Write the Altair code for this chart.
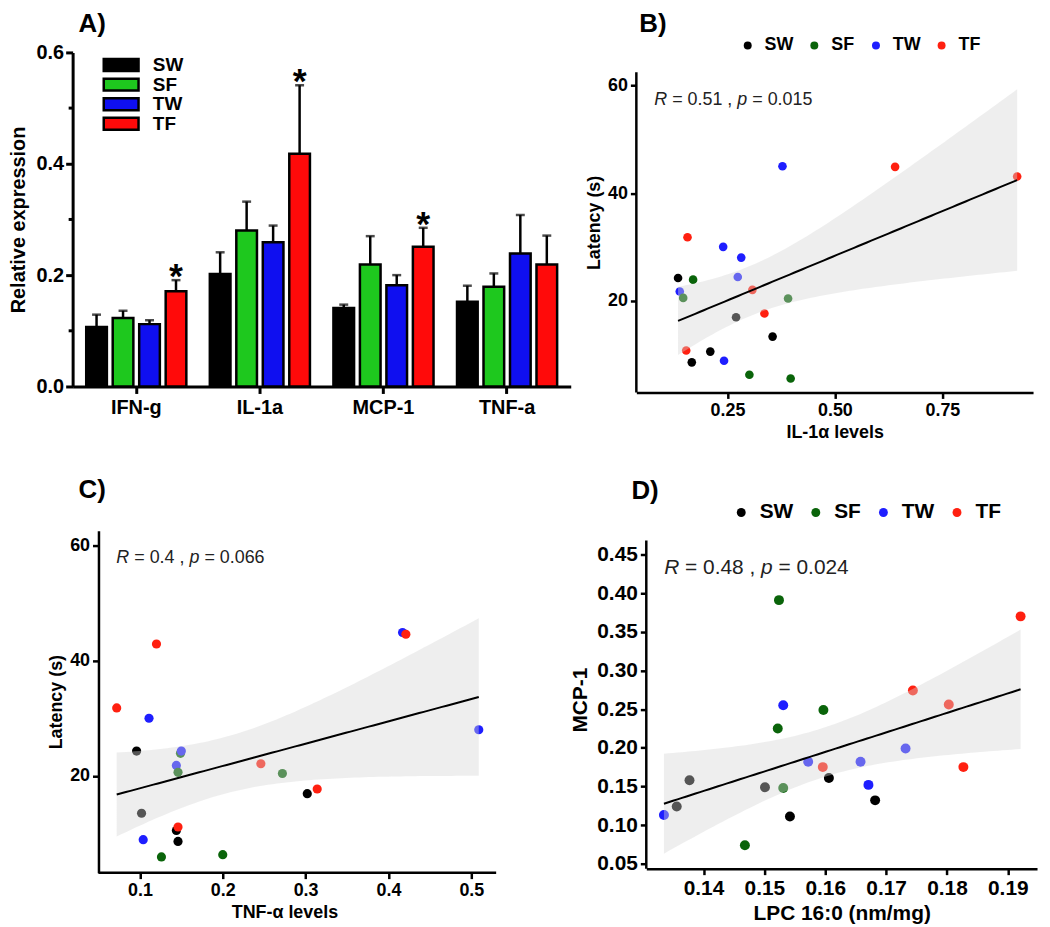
import altair as alt
import numpy as np
import pandas as pd

FONT = "Liberation Sans"
GROUPS = ["SW", "SF", "TW", "TF"]
BAR_COLORS = ["#000000", "#1EC81E", "#0F0FF0", "#FF0A0A"]
POINT_COLORS = ["#000000", "#0A640A", "#1E1EFF", "#FF2010"]

# ---------------- Panel A data ----------------
genes = ["IFN-g", "IL-1a", "MCP-1", "TNF-a"]
sw_mean = [0.107, 0.202, 0.141, 0.152]
sf_mean = [0.123, 0.280, 0.219, 0.179]
tw_mean = [0.112, 0.259, 0.182, 0.239]
tf_mean = [0.171, 0.418, 0.251, 0.219]
sw_sem = [0.022, 0.039, 0.006, 0.029]
sf_sem = [0.013, 0.052, 0.051, 0.024]
tw_sem = [0.007, 0.030, 0.018, 0.069]
tf_sem = [0.020, 0.123, 0.034, 0.052]
tf_star = ["*", "*", "*", ""]
a_major_ticks = [0, 0.2, 0.4, 0.6]
a_minor_ticks = [0.1, 0.3, 0.5]

# ---------------- Panel B data ----------------
b_group = ["TW", "TF", "TF", "TF", "TW", "TW", "SW", "SF", "TW", "TW", "SF",
           "TF", "SF", "SW", "TF", "SW", "TF", "SW", "SW", "TW", "SF", "SF"]
b_il1a = [0.378, 0.640, 0.924, 0.157, 0.240, 0.282, 0.135, 0.170, 0.274, 0.139, 0.147,
          0.308, 0.391, 0.270, 0.336, 0.355, 0.154, 0.210, 0.167, 0.242, 0.301, 0.397]
b_latency = [45.0, 44.9, 43.1, 31.8, 30.0, 28.0, 24.2, 23.9, 24.4, 21.7, 20.5,
             22.0, 20.4, 16.9, 17.6, 13.3, 10.7, 10.5, 8.5, 8.8, 6.2, 5.5]

# ---------------- Panel C data ----------------
c_group = ["TF", "TW", "TF", "TF", "TW", "TW", "SW", "SF", "TW", "TW", "SF",
           "TF", "SF", "SW", "TF", "SW", "SW", "TF", "TW", "SW", "SF", "SF"]
c_tnfa = [0.120, 0.417, 0.421, 0.072, 0.111, 0.509, 0.096, 0.149, 0.150, 0.144, 0.146,
          0.246, 0.272, 0.302, 0.314, 0.102, 0.144, 0.146, 0.104, 0.146, 0.126, 0.200]
c_latency = [42.9, 44.9, 44.6, 31.8, 30.0, 28.0, 24.3, 23.9, 24.3, 21.8, 20.6,
             22.1, 20.4, 16.9, 17.7, 13.5, 10.5, 11.1, 8.9, 8.6, 5.9, 6.3]

# ---------------- Panel D data ----------------
d_group = ["SF", "TF", "TF", "TW", "SF", "TF", "SF", "TW", "TW", "TW", "TF",
           "TF", "SW", "SW", "SW", "SF", "TW", "SW", "SW", "TW", "SW", "SF"]
d_lpc = [0.1524, 0.1921, 0.1744, 0.1531, 0.1597, 0.1803, 0.1522, 0.1732, 0.1572, 0.1658, 0.1596,
         0.1827, 0.1606, 0.1377, 0.1501, 0.1531, 0.1671, 0.1682, 0.1356, 0.1335, 0.1542, 0.1468]
d_mcp1 = [0.391, 0.370, 0.274, 0.255, 0.249, 0.256, 0.225, 0.199, 0.182, 0.182, 0.175,
          0.175, 0.161, 0.158, 0.149, 0.148, 0.152, 0.132, 0.124, 0.113, 0.111, 0.074]

# Arial / Liberation Sans advance widths (per 1000 em) for annotation layout
AW = {"R": 722, " ": 278, "=": 584, ".": 278, ",": 278, "p": 556}
for _d in "0123456789":
    AW[_d] = 556


def text_w(s, fs):
    return sum(AW[c] for c in s) * fs / 1000.0


def fit_band(x, y, n=80):
    x = np.asarray(x, float)
    y = np.asarray(y, float)
    b1, b0 = np.polyfit(x, y, 1)
    xs = np.linspace(x.min(), x.max(), n)
    yhat = b0 + b1 * xs
    resid = y - (b0 + b1 * x)
    s = np.sqrt(np.sum(resid ** 2) / (len(x) - 2))
    se = s * np.sqrt(1.0 / len(x) + (xs - x.mean()) ** 2 / np.sum((x - x.mean()) ** 2))
    t = 2.086  # t(0.975, df=20)
    return pd.DataFrame({"xv": xs, "fit": yhat, "lo": yhat - t * se, "hi": yhat + t * se})


def axis(fs, values, fmt, title_pad=4, extra=None):
    kw = dict(values=values, format=fmt, grid=False, labelFont=FONT, labelFontSize=fs,
              labelFontWeight="bold", labelColor="black", titleFont=FONT, titleFontSize=fs,
              titleFontWeight="bold", titleColor="black", domainColor="black", domainWidth=2.5,
              tickColor="black", tickWidth=2.5, tickSize=6, labelPadding=3,
              titlePadding=title_pad, labelFlush=False)
    if extra:
        kw.update(extra)
    return alt.Axis(**kw)


# ---------------- Panel A chart ----------------
rows = []
for g, m, s in zip(GROUPS, [sw_mean, sf_mean, tw_mean, tf_mean], [sw_sem, sf_sem, tw_sem, tf_sem]):
    for i, gene in enumerate(genes):
        rows.append({"gene": gene, "group": g, "mean": m[i], "top": m[i] + s[i],
                     "star": tf_star[i] if g == "TF" else ""})
bars_df = pd.DataFrame(rows)

A_H = 336
A_TOP = 0.6

xA = alt.X("gene:N", sort=genes, title=None,
           scale=alt.Scale(paddingInner=0.19, paddingOuter=0.11),
           axis=alt.Axis(labelAngle=0, labelFont=FONT, labelFontSize=20, labelFontWeight="bold",
                         labelColor="black", tickSize=7, tickWidth=3, tickColor="black",
                         domainWidth=3, domainColor="black", labelPadding=4, grid=False))
xoA = alt.XOffset("group:N", sort=GROUPS, scale=alt.Scale(paddingInner=0.22, paddingOuter=0))
axA = alt.Axis(values=a_major_ticks, format=".1f", grid=False, labelFont=FONT, labelFontSize=20,
               labelFontWeight="bold", labelColor="black", titleFont=FONT, titleFontSize=20,
               titleFontWeight="bold", titleColor="black", domainColor="black", domainWidth=3,
               tickColor="black", tickWidth=3, tickSize=7, labelPadding=2, titlePadding=8,
               labelFlush=False)
scA = alt.Scale(domain=[0, A_TOP], nice=False)


def yA(f):
    return alt.Y(f"{f}:Q", title="Relative expression", scale=scA, axis=axA)


colA = alt.Color("group:N", sort=GROUPS, scale=alt.Scale(domain=GROUPS, range=BAR_COLORS), legend=None)

baseA = alt.Chart(bars_df)
bars = baseA.mark_bar(stroke="black", strokeWidth=2.5).encode(x=xA, xOffset=xoA, y=yA("mean"), color=colA)
err = baseA.mark_rule(color="black", strokeWidth=2.5).encode(x=xA, xOffset=xoA, y=yA("mean"), y2="top:Q")
caps = baseA.mark_tick(color="black", thickness=2.5, size=9).encode(x=xA, xOffset=xoA, y=yA("top"))
stars = baseA.mark_text(fontSize=36, fontWeight="bold", font=FONT, baseline="alphabetic", dy=8,
                        color="black").encode(x=xA, xOffset=xoA, y=yA("top"), text="star:N")
minor = alt.Chart(pd.DataFrame({"t": a_minor_ticks})).mark_rule(color="black", strokeWidth=3).encode(
    y=yA("t"), x=alt.value(-4), x2=alt.value(0))

# legend inside the plot (key boxes with outlines), rows 19.7 px apart
leg_df = pd.DataFrame({"group": GROUPS, "i": list(range(len(GROUPS)))})
px = A_TOP / A_H
leg_base = alt.Chart(leg_df).transform_calculate(
    lc=f"{A_TOP} - (12.7 + 19.7 * datum.i) * {px}",
    l1=f"{A_TOP} - (6.7 + 19.7 * datum.i) * {px}",
    l2=f"{A_TOP} - (18.7 + 19.7 * datum.i) * {px}")
leg_rect = leg_base.mark_rect(stroke="black", strokeWidth=2.5).encode(
    x=alt.value(31.3), x2=alt.value(66.3), y=yA("l1"), y2="l2:Q", color=colA)
leg_text = leg_base.mark_text(align="left", baseline="middle", font=FONT, fontSize=19,
                              fontWeight="bold", color="black").encode(
    x=alt.value(80.7), y=yA("lc"), text="group:N")

panelA = alt.layer(bars, err, caps, stars, minor, leg_rect, leg_text).properties(
    width=501, height=A_H,
    title=alt.TitleParams("A)", anchor="start", fontSize=26, fontWeight="bold", font=FONT,
                          color="black", baseline="alphabetic", offset=-15, dx=6, frame="group"))


# ---------------- scatter panel builder ----------------
def scatter_panel(xs, ys, grp, xtitle, ytitle, xdom, ydom, xvals, yvals, xfmt, yfmt, fs,
                  width, height, label, title_dx, title_offset, r_str, p_str, r_x, r_y,
                  pt_size, legend=None, yline=None, xline=None, yoffset=0, ytitle_pad=4):
    df = pd.DataFrame({"xv": xs, "yv": ys, "group": grp})
    band = fit_band(xs, ys)
    sx = alt.Scale(domain=xdom, nice=False, zero=False)
    sy = alt.Scale(domain=ydom, nice=False, zero=False)
    ax = axis(fs, xvals, xfmt, title_pad=4, extra={"domain": False} if xline is not None else None)
    extra = {"offset": yoffset}
    if yline is not None:
        extra["domain"] = False
    ay = axis(fs, yvals, yfmt, title_pad=ytitle_pad, extra=extra)

    def X(f):
        return alt.X(f"{f}:Q", title=xtitle, scale=sx, axis=ax)

    def Y(f):
        return alt.Y(f"{f}:Q", title=ytitle, scale=sy, axis=ay)

    col = alt.Color("group:N", scale=alt.Scale(domain=GROUPS, range=POINT_COLORS),
                    legend=legend if legend is not None else None)
    pts = alt.Chart(df).mark_circle(size=pt_size, opacity=1).encode(x=X("xv"), y=Y("yv"), color=col)
    ribbon = alt.Chart(band).mark_area(color="#D4D4D4", opacity=0.4).encode(
        x=X("xv"), y=Y("lo"), y2="hi:Q")
    line = alt.Chart(band).mark_line(color="black", strokeWidth=2).encode(x=X("xv"), y=Y("fit"))

    one = pd.DataFrame({"k": [0]})
    layers = [pts, ribbon, line]
    # axis lines drawn along the data extent of the axes
    if yline is not None:
        layers.append(alt.Chart(one).mark_rule(color="black", strokeWidth=2.5).encode(
            x=alt.datum(xdom[0]) if xline is None else alt.datum(xline[0]),
            y=alt.datum(yline[0]), y2=alt.datum(yline[1])))
    if xline is not None:
        layers.append(alt.Chart(one).mark_rule(color="black", strokeWidth=2.5).encode(
            y=alt.value(height), x=alt.datum(xline[0]), x2=alt.datum(xline[1])))

    full = f"R = {r_str} , p = {p_str}"
    i_eq1 = 2
    i_p = full.index("p")
    i_eq2 = i_p + 2
    parts = [("R", 0, "italic"), (f"= {r_str} ,", i_eq1, "normal"),
             ("p", i_p, "italic"), (f"= {p_str}", i_eq2, "normal")]
    for s, start, style in parts:
        layers.append(alt.Chart(one).mark_text(align="left", baseline="middle", fontSize=fs, font=FONT,
                                               fontStyle=style, color="#222222").encode(
            x=alt.value(r_x + text_w(full[:start], fs)), y=alt.value(r_y), text=alt.value(s)))

    return alt.layer(*layers).properties(
        width=width, height=height,
        title=alt.TitleParams(label, anchor="start", fontSize=26, fontWeight="bold", font=FONT,
                              color="black", baseline="alphabetic", offset=title_offset,
                              dx=title_dx, frame="group"))


def pt_legend(x, y, fs, size):
    return alt.Legend(title=None, orient="none", direction="horizontal", legendX=x, legendY=y,
                      symbolType="circle", symbolSize=size, symbolStrokeWidth=0,
                      labelFont=FONT, labelFontSize=fs, labelFontWeight="bold", labelColor="black",
                      labelOffset=8, columnPadding=12, padding=0)


panelB = scatter_panel(b_il1a, b_latency, b_group, "IL-1α levels", "Latency (s)",
                       [0.038, 0.961], [2.9, 66.2], [0.25, 0.5, 0.75], [20, 40, 60], ".2f", "d",
                       18, 399, 342, "B)", 3, -21, "0.51", "0.015", 18, 48, 75,
                       legend=pt_legend(103, -16, 18, 64), yline=[2.9, 62.5])

panelC = scatter_panel(c_tnfa, c_latency, c_group, "TNF-α levels", "Latency (s)",
                       [0.0188, 0.530], [3.17, 62.6], [0.1, 0.2, 0.3, 0.4, 0.5], [20, 40, 60], ".1f", "d",
                       18, 426, 344, "C)", 6, 7, "0.4", "0.066", 44, 28, 85,
                       yoffset=-26, xline=[0.050, 0.530])

panelD = scatter_panel(d_lpc, d_mcp1, d_group, "LPC 16:0 (nm/mg)", "MCP-1",
                       [0.1306, 0.1948], [0.0436, 0.4809],
                       [0.14, 0.15, 0.16, 0.17, 0.18, 0.19],
                       [0.05, 0.10, 0.15, 0.20, 0.25, 0.30, 0.35, 0.40, 0.45], ".2f", ".2f",
                       21, 393, 340, "D)", -15, -23, "0.48", "0.024", 18, 38, 100,
                       legend=pt_legend(85, -29, 21, 80), yline=[0.0436, 0.468], ytitle_pad=6)

row1 = alt.hconcat(panelA, panelB, spacing=14).resolve_scale(color="independent")
row2 = alt.hconcat(panelC, panelD, spacing=72).resolve_scale(color="independent")
chart = alt.vconcat(row1, row2, spacing=36).resolve_scale(color="independent").properties(
    padding={"left": 0, "top": 0, "right": 5, "bottom": 5}
).configure_view(stroke=None)

chart.save("out.html", embed_options={"renderer": "svg", "actions": False})
